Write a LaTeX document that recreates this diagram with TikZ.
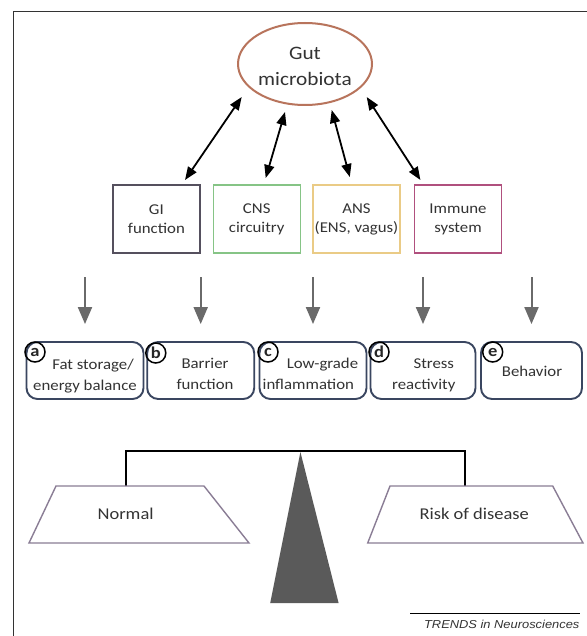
\documentclass[tikz,border=0pt]{standalone}
\usepackage{fontspec}
\setmainfont{Carlito}[FakeStretch=1.12]
\newfontfamily\trendsfont{Liberation Sans}[FakeStretch=1.12]
\usetikzlibrary{shapes.geometric,arrows.meta}
\definecolor{ellcol}{HTML}{B8745C}
\definecolor{gicol}{HTML}{55505E}
\definecolor{cnscol}{HTML}{86C486}
\definecolor{anscol}{HTML}{EACB86}
\definecolor{immcol}{HTML}{B0507E}
\definecolor{outcol}{HTML}{3A4660}
\definecolor{trapcol}{HTML}{8A7D95}
\definecolor{downcol}{HTML}{6A6A6A}
\definecolor{fulcol}{HTML}{5A5A5A}
\definecolor{textcol}{HTML}{333333}
\tikzset{
  topbox/.style={draw, line width=1.4pt, minimum width=87pt, minimum height=68pt, inner sep=0pt, align=center, text=textcol, font=\fontsize{15}{19}\selectfont},
  outbox/.style={draw=outcol, line width=1.9pt, rounded corners=11pt, minimum width=#1, minimum height=57pt, inner sep=0pt},
  lettercirc/.style={draw, circle, line width=1.5pt, minimum size=20pt, inner sep=0pt, text=black!85, font=\fontsize{16.5}{16.5}\selectfont\bfseries},
  outtext/.style={inner sep=0pt, anchor=base, text=textcol, font=\fontsize{15}{21}\selectfont},
  dbl/.style={line width=1.8pt, {Triangle[width=10pt,length=13pt]}-{Triangle[width=10pt,length=13pt]}},
  downarr/.style={draw=downcol, line width=2pt, -{Triangle[width=14pt,length=17pt]}},
  trap/.style={draw=trapcol, line width=1.4pt},
  traptext/.style={text=textcol, font=\fontsize{16.5}{16.5}\selectfont},
}
\begin{document}
\begin{tikzpicture}[x=1pt,y=-1pt]
\useasboundingbox (0,0) rectangle (586,636);
\fill[white] (0,0) rectangle (586,636);
\draw[color=black!80, line width=1.2pt] (13.5,640) -- (13.5,11.7) -- (590,11.7);

% ellipse
\node[ellipse, draw=ellcol, line width=2pt, minimum width=134pt, minimum height=82pt, inner sep=0pt] (gut) at (305,64) {};
\node[align=center, text=textcol, inner sep=0pt, font=\fontsize{19}{26}\selectfont] (gutlabel) at (305,66) {Gut\\microbiota};

% top boxes
\node[topbox, draw=gicol] (gi) at (156.4,219) {GI\\function};
\node[topbox, draw=cnscol] (cns) at (256.7,219) {CNS\\circuitry};
\node[topbox, draw=anscol] (ans) at (356.5,219) {ANS\\(ENS, vagus)};
\node[topbox, draw=immcol] (imm) at (458,219) {Immune\\system};

% double arrows
\coordinate (g1) at (241.7,97); \coordinate (b1) at (185,180);
\coordinate (g2) at (285,112); \coordinate (b2) at (265.7,178);
\coordinate (g3) at (331.7,110); \coordinate (b3) at (349.8,177);
\coordinate (g4) at (366.7,97); \coordinate (b4) at (420.4,180);
\draw[dbl] (g1) -- (b1);
\draw[dbl] (g2) -- (b2);
\draw[dbl] (g3) -- (b3);
\draw[dbl] (g4) -- (b4);

% output boxes
\node[outbox=117pt] (oa) at (85,370.5) {};
\node[outbox=107pt] (ob) at (200.7,370.5) {};
\node[outbox=107pt] (oc) at (313,370.5) {};
\node[outbox=105pt] (od) at (423,370.5) {};
\node[outbox=101pt] (oe) at (531.5,370.5) {};

\node[lettercirc] (ca) at (35,352) {a};
\node[lettercirc] (cb) at (155.8,353) {b};
\node[lettercirc] (cc) at (268,352) {c};
\node[lettercirc] (cd) at (379,352) {d};
\node[lettercirc] (ce) at (492.7,352) {e};

\node[outtext] (ta1) at (93,369) {Fat storage/};
\node[outtext] (ta2) at (85,390) {energy balance};
\node[outtext] (tb1) at (205,368) {Barrier};
\node[outtext] (tb2) at (205,389) {function};
\node[outtext] (tc1) at (322.5,368) {Low-grade};
\node[outtext] (tc2) at (308.3,389) {inflammation};
\node[outtext] (td1) at (433.8,368) {Stress};
\node[outtext] (td2) at (423.8,389) {reactivity};
\node[outtext] (te1) at (532,376) {Behavior};

% down arrows
\foreach \b in {oa, ob, oc, od, oe}{
  \draw[downarr] ([yshift=64pt]\b.north) -- ([yshift=17pt]\b.north);
}

% balance
\fill[fulcol] (300.4,452) -- (338.6,603) -- (270.2,603) -- cycle;
\coordinate (barl) at (125.6,451); \coordinate (barr) at (465.2,451);
\draw[line width=1.9pt] (125.6,486) -- (barl) -- (barr) -- (465.2,486);
\draw[trap] (56,486) -- (204,486) -- (249,543) -- (29,543) -- cycle;
\draw[trap] (390,486) -- (552.7,486) -- (583,543) -- (367.7,543) -- cycle;
\node[traptext] (normal) at (125.6,514) {Normal};
\node[traptext] (risk) at (474.2,514) {Risk of disease};

% footer
\draw[line width=0.6pt] (410,613) -- (579.6,613);
\node[font=\trendsfont\itshape\fontsize{11.5}{12}\selectfont, text=black!80, anchor=base east, inner sep=0pt] (trends) at (579.6,628) {TRENDS in Neurosciences};
\end{tikzpicture}
\end{document}
